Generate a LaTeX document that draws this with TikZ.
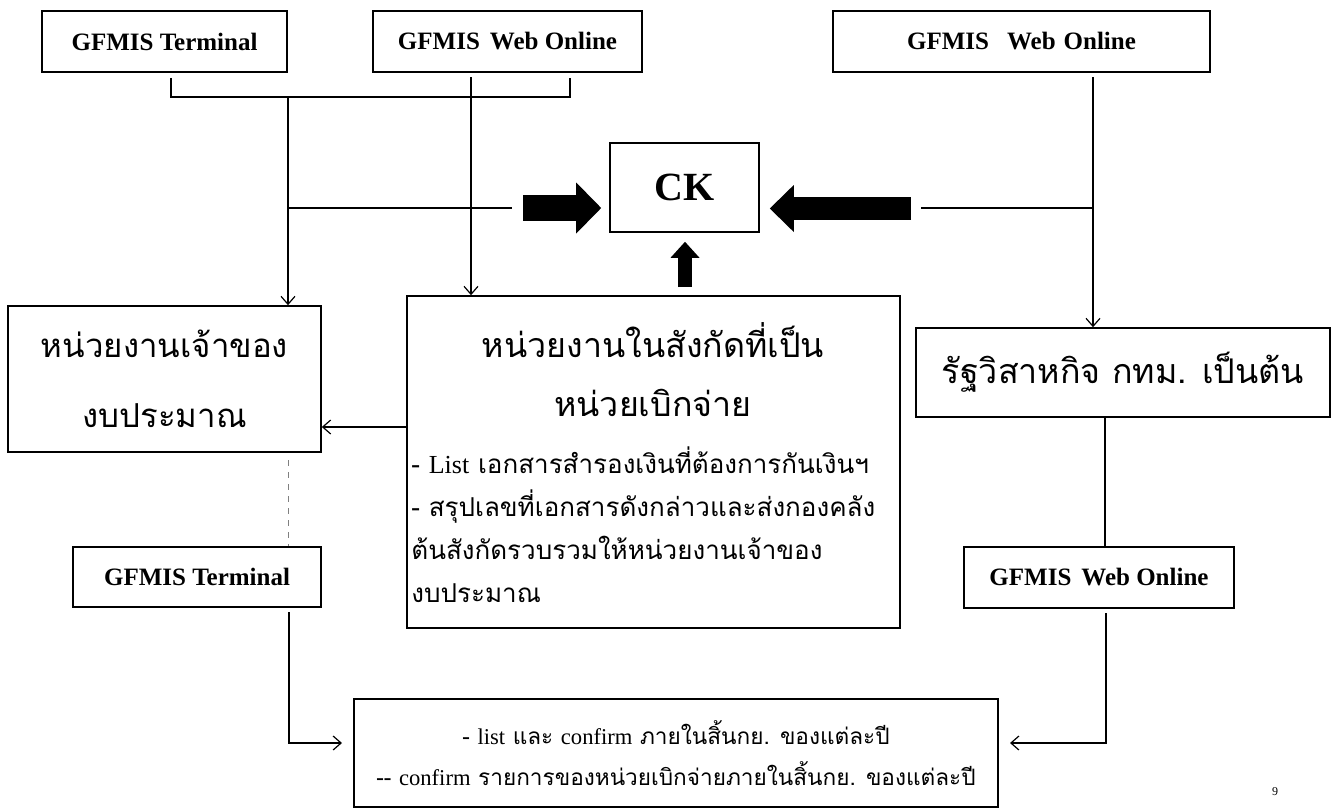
\documentclass[tikz,border=0pt]{standalone}
\usepackage{fontspec}
\setmainfont{Liberation Serif}
\newfontfamily\thaifont[Script=Thai]{Loma}
\usetikzlibrary{arrows.meta}

\tikzset{
  box/.style={draw, line width=0.8pt, inner sep=2pt},
  gfbox/.style={box, font=\bfseries\fontsize{12.5}{14}\selectfont},
  thaibig/.style={font=\thaifont\fontsize{16.5}{35}\selectfont, align=center},
  link/.style={line width=0.6pt},
  tip/.style={link, -{Straight Barb[length=4pt,width=7pt]}},
  bigright/.style={line width=13pt, -{Triangle[length=12.5pt,width=25.5pt,line width=0pt]}},
  bigleft/.style={line width=11.5pt, -{Triangle[length=12pt,width=23.5pt,line width=0pt]}},
  bigup/.style={line width=7pt, -{Triangle[length=8pt,width=14.5pt,line width=0pt]}}
}

\begin{document}
\begin{tikzpicture}[x=0.5pt,y=-0.5pt]
	%%%%% START %%%%%
	\useasboundingbox (0,0) rectangle (1331,809);
	
	\node[gfbox, minimum width=122.5pt, minimum height=30.5pt] (term) at (164.5,41.5) {GFMIS Terminal};
	\node[gfbox, minimum width=134.5pt, minimum height=30.5pt] (webA) at (507.5,41.5) {GFMIS\hspace{5pt}Web Online};
	\node[gfbox, minimum width=188.5pt, minimum height=30.5pt] (webB) at (1021.5,41.5) {GFMIS\hspace{9pt}Web\hspace{4pt}Online};
	
	\node[box, minimum width=74.5pt, minimum height=44.5pt, font=\bfseries\fontsize{20}{22}\selectfont] (ck) at (684.5,187.5) {CK};
	
	\node[box, thaibig, minimum width=156.5pt, minimum height=73pt] (owner) at (164.5,379) {หน่วยงานเจ้าของ\\งบประมาณ};
	\node[box, minimum width=246.5pt, minimum height=166pt] (unit) at (653.5,462) {};
	\node[font=\thaifont\fontsize{17}{29.5}\selectfont, align=center] (unithead) at (653,369.5) {หน่วยงานในสังกัดที่เป็น\\หน่วยเบิกจ่าย};
	\node[font=\thaifont\fontsize{13}{21.5}\selectfont, align=left, anchor=west, inner sep=0pt] (unitbody) at (411,525)
		{- {\rmfamily List} เอกสารสำรองเงินที่ต้องการกันเงินฯ\\- สรุปเลขที่เอกสารดังกล่าวและส่งกองคลัง\\ต้นสังกัดรวบรวมให้หน่วยงานเจ้าของ\\งบประมาณ};
	\node[box, minimum width=207pt, minimum height=44.5pt, font=\thaifont\fontsize{17}{22}\selectfont] (soe) at (1123,372.5) {รัฐวิสาหกิจ กทม. เป็นต้น};
	
	\node[gfbox, minimum width=124pt, minimum height=30pt] (term2) at (197,577) {GFMIS Terminal};
	\node[gfbox, minimum width=135pt, minimum height=30.5pt] (webC) at (1099,577.5) {GFMIS\hspace{5pt}Web Online};
	
	\node[box, minimum width=322pt, minimum height=54pt, align=center, font=\thaifont\fontsize{11.3}{20.5}\selectfont] (conf) at (676,753)
		{- {\rmfamily list} และ {\rmfamily confirm} ภายในสิ้นกย. ของแต่ละปี\\-- {\rmfamily confirm} รายการของหน่วยเบิกจ่ายภายในสิ้นกย. ของแต่ละปี};
	
	\node[font=\fontsize{6}{7}\selectfont] (pagenum) at (1275,792) {9};
	
	% left side
	\draw[link] ([xshift=3.25pt,yshift=-2.5pt]term.south) |- (570,97) -- ([xshift=31.25pt,yshift=-2.5pt]webA.south);
	\coordinate (jd) at (288,97);
	\coordinate (jm) at (288,208);
	\draw[tip] (jd) -- (jd |- owner.north);
	\draw[link] (jm) -- (512,208);
	\coordinate (ckl) at (523,208);
	\draw[bigright] (ckl) -- ([xshift=-4pt]ckl -| ck.west);
	\coordinate (wd) at (471,77);
	\draw[tip] (wd) -- (wd |- unit.north);
	
	% right side
	\coordinate (rd) at (1093,77);
	\draw[tip] (rd) -- (rd |- soe.north);
	\draw[link] (921,208) -- (1093,208);
	\coordinate (ckr) at (911,208.5);
	\draw[bigleft] (ckr) -- ([xshift=5pt]ckr -| ck.east);
	\coordinate (cku) at (685,287);
	\draw[bigup] (cku) -- ([yshift=-4.5pt]cku |- ck.south);
	
	\coordinate (ul) at (407,427);
	\draw[tip] (ul) -- (ul -| owner.east);
	\coordinate (od) at (288,460);
	\draw[link, dashed, gray, line width=0.4pt] (od) -- (od |- term2.north);
	
	% bottom
	\coordinate (td) at (289,612);
	\coordinate (cl) at (342,743);
	\draw[tip] (td) |- (cl);
	\coordinate (sd) at (1105,417);
	\draw[link] (sd) -- (sd |- webC.north);
	\coordinate (wcd) at (1106,613);
	\coordinate (cr) at (1010,743);
	\draw[tip] (wcd) |- (cr);
	
	%%%%% END %%%%%
\end{tikzpicture}
\end{document}
